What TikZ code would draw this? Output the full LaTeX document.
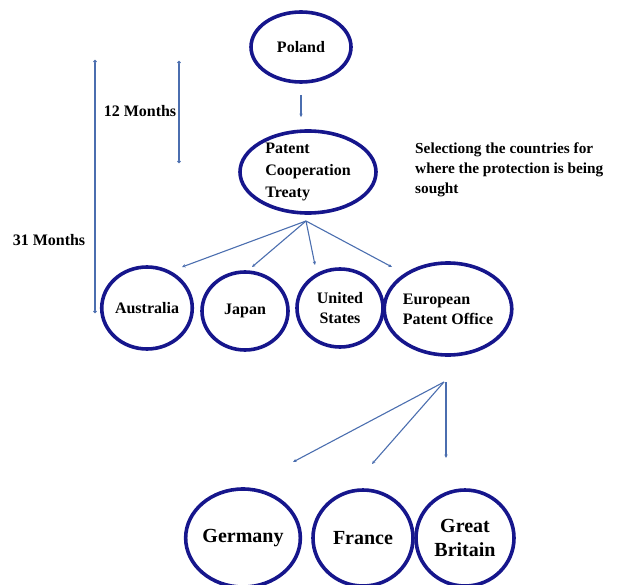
\documentclass[tikz,border=0pt]{standalone}
\usepackage{fontspec}
\setmainfont{Liberation Serif}
\usetikzlibrary{shapes.geometric,arrows.meta}
\definecolor{navy}{RGB}{22,22,140}
\definecolor{connc}{RGB}{75,110,175}
\begin{document}
\begin{tikzpicture}[x=1pt,y=-1pt,
  country/.style={ellipse,draw=navy,line width=3.6pt,inner sep=0pt,align=center,
    font=\fontsize{16}{20}\selectfont\bfseries},
  bigcountry/.style={country,font=\fontsize{20}{24}\selectfont\bfseries},
  conn/.style={draw=connc,line width=1.1pt,-{Stealth[length=3.5pt,width=3.2pt]}},
  bar/.style={draw=connc,line width=1.3pt,{Circle[length=3.2pt]}-{Circle[length=3.2pt]}},
  lbl/.style={font=\fontsize{16}{20}\selectfont\bfseries,inner sep=0pt}]
\useasboundingbox (0,0) rectangle (639,585);

% nodes
\node[country,minimum width=100pt,minimum height=70pt] (poland) at (301,47) {Poland};
\node[country,minimum width=136pt,minimum height=82pt,align=left,
  font=\fontsize{16}{22}\selectfont\bfseries] (pct) at (308,172) {Patent\\Cooperation\\Treaty};
\node[country,minimum width=88pt,minimum height=82pt] (aus) at (147,308) {Australia};
\node[country,minimum width=86pt,minimum height=78pt] (jap) at (245,311) {Japan};
\node[country,minimum width=86pt,minimum height=78pt] (usa) at (340,308) {United\\States};
\node[country,minimum width=112pt,minimum height=92pt,align=left] (epo) at (448,309) {European\\Patent Office};
\node[bigcountry,minimum width=106pt,minimum height=98pt] (ger) at (243,538) {Germany};
\node[bigcountry,minimum width=100pt,minimum height=96pt] (fra) at (363,538) {France};
\node[bigcountry,minimum width=98pt,minimum height=96pt] (gb) at (465,538) {Great\\Britain};

% labels
\node[lbl] (m12) at (140,111) {12 Months};
\node[lbl] (m31) at (49,240) {31 Months};
\node[lbl,anchor=north west,align=left,font=\fontsize{15.3}{20}\selectfont\bfseries] (sel) at (415,143)
  {Selectiong the countries for\\where the protection is being\\sought};

% fan coordinates
\coordinate (f1) at (306,221);
\coordinate (e1) at (182,267);
\coordinate (e2) at (252,267);
\coordinate (e3) at (315,265);
\coordinate (e4) at (392,267);
\coordinate (f2) at (444,382);
\coordinate (f3) at (446,382);
\coordinate (g1) at (293,462);
\coordinate (g2) at (372,464);
\coordinate (g3) at (446,458);
\coordinate (b1) at (95,60);
\coordinate (b2) at (95,313);
\coordinate (b3) at (179,61);
\coordinate (b4) at (179,163);

% connectors
\draw[conn,shorten <=11pt,shorten >=12pt] (poland.south) -- (poland.south |- pct.north);
\draw[conn] (f1) -- (e1);
\draw[conn] (f1) -- (e2);
\draw[conn] (f1) -- (e3);
\draw[conn] (f1) -- (e4);
\draw[conn] (f2) -- (g1);
\draw[conn] (f2) -- (g2);
\draw[conn] (f3) -- (g3);
\draw[bar] (b1) -- (b2);
\draw[bar] (b3) -- (b4);
\end{tikzpicture}
\end{document}
